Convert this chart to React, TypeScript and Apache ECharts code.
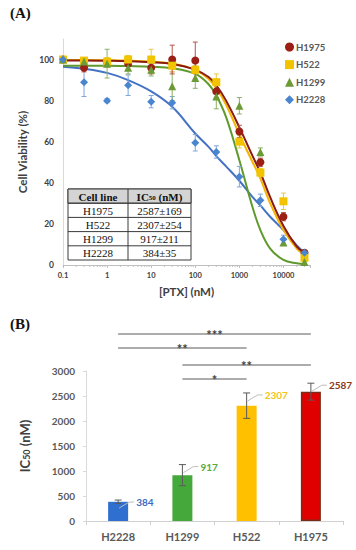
import React, { useEffect, useRef } from 'react';
import * as echarts from 'echarts';

// ---------- Panel A data ----------
const doses = [0.1, 0.3, 1, 3, 10, 30, 100, 300, 1000, 3000, 10000, 30000];
const cellLinesA = ['H1975', 'H522', 'H1299', 'H2228'];
const h1975Mean = [100, 96, 98.5, 98, 96, 100, 99.5, 84.5, 65, 50, 23.5, 6];
const h1975Err = [0, 2, 2, 3, 3, 7, 9, 3, 3, 2, 2, 1];
const h522Mean = [100, 99.5, 99, 100, 100, 97, 95, 89, 60, 45, 31, 3.5];
const h522Err = [0, 1, 2, 2, 5, 3, 2, 4, 3, 2, 4, 1];
const h1299Mean = [100, 99, 98, 96, 95, 87, 91, 82, 77.5, 55, 11, 1.5];
const h1299Err = [0, 1, 7, 3, 3, 7, 5, 6, 4, 2, 1, 1];
const h2228Mean = [100, 89, 80, 87.5, 79.5, 79, 59.5, 55, 43, 31.5, 12.5, 6];
const h2228Err = [0, 7, 1, 5, 3, 3, 4, 3, 5, 3, 2, 1];

// fitted curves
const curveDose = [0.1, 0.3, 1, 3, 10, 30, 100, 200, 300, 500, 1000, 2000, 3000, 5000, 10000, 20000, 30000];
const h1975Fit = [99.5, 99.5, 99.4, 99.2, 98.7, 97.8, 95, 91.5, 87.5, 80, 67, 53, 45, 33, 19, 9, 6];
const h522Fit = [99.8, 99.8, 99.7, 99.5, 99, 98, 95, 90.5, 86, 78, 63.5, 50, 42, 30, 17, 8, 5];
const h1299Fit = [97, 97, 97, 96.8, 96.5, 95.8, 93, 88, 82.5, 72, 51, 28, 17, 8, 2.5, 0.8, 0.5];
const h2228Fit = [96.5, 95.5, 93.5, 90, 84.5, 77, 64, 57.5, 53, 48, 41, 33, 29, 23.5, 17, 9.5, 6];

// table
const tableLines = ['H1975', 'H522', 'H1299', 'H2228'];
const tableIC50 = ['2587±169', '2307±254', '917±211', '384±35'];

// ---------- Panel B data ----------
const cellLinesB = ['H2228', 'H1299', 'H522', 'H1975'];
const ic50Values = [384, 917, 2307, 2587];
const ic50Errors = [35, 211, 254, 169];
const sigFrom = [0, 0, 1, 1];
const sigTo = [3, 2, 3, 2];
const sigLevel = [3740, 3460, 3120, 2840];
const sigStars = ['***', '**', '**', '*'];

const colA = {
  H1975: { marker: '#9B1F14', line: '#8B1A10', err: '#B5524A' },
  H522: { marker: '#F2C400', line: '#F4B400', err: '#E8C84A' },
  H1299: { marker: '#6C9A35', line: '#5E9A2C', err: '#8CB06A' },
  H2228: { marker: '#4A86D0', line: '#4472C4', err: '#7FA6DA' },
};
const barColors = ['#2F6FD0', '#45A83B', '#FFC000', '#E00000'];
const labelColors = ['#3A6BC4', '#5AAA3C', '#F2C318', '#8B3A1A'];

const FONT = 'Lato';
const SERIF = 'Liberation Serif';

function errorSeries(name: string, means: number[], errs: number[], color: string) {
  return {
    type: 'custom',
    name: name + ' err',
    xAxisIndex: 0,
    yAxisIndex: 0,
    clip: false,
    z: 3,
    data: doses.map((d, i) => [d, means[i], errs[i]]),
    encode: { x: 0, y: 1 },
    renderItem: (params: any, api: any) => {
      const x = api.value(0), m = api.value(1), e = api.value(2);
      if (!e) return null;
      const t = api.coord([x, m + e]);
      const b = api.coord([x, m - e]);
      const w = 2.5;
      const st = { stroke: color, lineWidth: 1 };
      return {
        type: 'group',
        children: [
          { type: 'line', shape: { x1: t[0], y1: t[1], x2: b[0], y2: b[1] }, style: st },
          { type: 'line', shape: { x1: t[0] - w, y1: t[1], x2: t[0] + w, y2: t[1] }, style: st },
          { type: 'line', shape: { x1: b[0] - w, y1: b[1], x2: b[0] + w, y2: b[1] }, style: st },
        ],
      };
    },
  };
}

function fitSeries(name: string, vals: number[], color: string) {
  return {
    type: 'line',
    name: name + ' fit',
    xAxisIndex: 0,
    yAxisIndex: 0,
    smooth: 0.4,
    symbol: 'none',
    z: 2,
    lineStyle: { color, width: 2 },
    data: curveDose.map((d, i) => [d, vals[i]]),
  };
}

function scatterSeries(name: string, means: number[], color: string, symbol: string, size: number) {
  return {
    type: 'scatter',
    name,
    xAxisIndex: 0,
    yAxisIndex: 0,
    symbol,
    symbolSize: size,
    z: 4,
    itemStyle: { color, opacity: 1 },
    data: doses.map((d, i) => [d, means[i]]),
  };
}

// minor tick positions of the log axis (2..9 in each decade)
const minorTickVals: number[][] = [];
for (let p = -1; p <= 4; p++) {
  for (let k = 2; k <= 9; k++) {
    const v = k * Math.pow(10, p);
    if (v <= 40000) minorTickVals.push([v, 0]);
  }
}

function buildTable() {
  const x0 = 68, x1 = 128, x2 = 191, y0 = 189, rh = 14.2;
  const children: any[] = [];
  children.push({ type: 'rect', shape: { x: x0, y: y0, width: x2 - x0, height: rh * 5 }, style: { fill: '#fff', stroke: '#3a3a3a', lineWidth: 1 } });
  children.push({ type: 'rect', shape: { x: x0, y: y0, width: x2 - x0, height: rh }, style: { fill: '#D4D4D4', stroke: '#3a3a3a', lineWidth: 1 } });
  for (let r = 1; r < 5; r++) {
    children.push({ type: 'line', shape: { x1: x0, y1: y0 + r * rh, x2: x2, y2: y0 + r * rh }, style: { stroke: '#3a3a3a', lineWidth: 1 } });
  }
  children.push({ type: 'line', shape: { x1: x1, y1: y0, x2: x1, y2: y0 + 5 * rh }, style: { stroke: '#3a3a3a', lineWidth: 1 } });
  children.push({ type: 'text', x: (x0 + x1) / 2, y: y0 + rh / 2 + 0.5, style: { text: 'Cell line', font: `bold 11px "${SERIF}"`, fill: '#111', align: 'center', verticalAlign: 'middle' } });
  children.push({
    type: 'text', x: (x1 + x2) / 2, y: y0 + rh / 2 + 0.5,
    style: {
      text: '{b|IC}{s|50}{b| (nM)}', align: 'center', verticalAlign: 'middle', fill: '#111',
      rich: {
        b: { fontFamily: SERIF, fontWeight: 'bold', fontSize: 11, fill: '#111' },
        s: { fontFamily: SERIF, fontWeight: 'bold', fontSize: 7, fill: '#111', padding: [3, 0, 0, 0] },
      },
    },
  });
  tableLines.forEach((name, i) => {
    const cy = y0 + rh * (i + 1) + rh / 2 + 0.5;
    children.push({ type: 'text', x: (x0 + x1) / 2, y: cy, style: { text: name, font: `11px "${SERIF}"`, fill: '#111', align: 'center', verticalAlign: 'middle' } });
    children.push({ type: 'text', x: (x1 + x2) / 2, y: cy, style: { text: tableIC50[i], font: `11px "${SERIF}"`, fill: '#111', align: 'center', verticalAlign: 'middle' } });
  });
  return { type: 'group', children, z: 10 };
}

const option: any = {
  animation: false,
  backgroundColor: '#fff',
  grid: [
    { left: 63, top: 39, width: 247, height: 226 },
    { left: 86, top: 371, width: 257, height: 150 },
  ],
  legend: {
    data: cellLinesA,
    orient: 'vertical',
    left: 280,
    top: 37,
    itemWidth: 9,
    itemHeight: 9,
    itemGap: 7.6,
    textStyle: { fontFamily: FONT, fontWeight: 'bold', fontSize: 9.5, color: '#595959', padding: [0, 0, 0, -3] },
  },
  xAxis: [
    {
      type: 'log', gridIndex: 0, logBase: 10, min: 0.1, max: 40000,
      name: '[PTX] (nM)', nameLocation: 'middle', nameGap: 20,
      nameTextStyle: { fontFamily: FONT, fontWeight: 'bold', fontSize: 11.5, color: '#404040' },
      axisLine: { lineStyle: { color: '#BFBFBF' } },
      axisTick: { show: true, length: 3, lineStyle: { color: '#BFBFBF' } },
      splitLine: { show: false },
      axisLabel: {
        fontFamily: FONT, fontWeight: 'bold', fontSize: 7.5, color: '#404040', margin: 6,
        formatter: (v: number) => {
          const l = Math.log10(v);
          if (Math.abs(l - Math.round(l)) > 1e-6) return '';
          return v < 1 ? '0.1' : String(Math.round(v));
        },
      },
    },
    {
      type: 'category', gridIndex: 1, data: cellLinesB,
      axisLine: { lineStyle: { color: '#D0D0D0' } },
      axisTick: { show: true, length: 4, lineStyle: { color: '#D0D0D0' } },
      axisLabel: { fontFamily: FONT, fontWeight: 'bold', fontSize: 11, color: '#595959', margin: 10 },
    },
  ],
  yAxis: [
    {
      type: 'value', gridIndex: 0, min: 0, max: 110, interval: 20,
      name: 'Cell Viability (%)', nameLocation: 'middle', nameGap: 28,
      nameTextStyle: { fontFamily: FONT, fontWeight: 'bold', fontSize: 11.5, color: '#404040' },
      axisLine: { show: true, lineStyle: { color: '#D9D9D9' } },
      axisTick: { show: false },
      splitLine: { show: false },
      axisLabel: { fontFamily: FONT, fontWeight: 'bold', fontSize: 8.5, color: '#404040', margin: 9, formatter: (v: number) => (v > 100 ? '' : String(v)) },
    },
    {
      type: 'value', gridIndex: 1, min: 0, max: 3000, interval: 500,
      name: '{b|IC}{s|50}{b| (nM)}', nameLocation: 'middle', nameGap: 55,
      nameTextStyle: {
        rich: {
          b: { fontFamily: FONT, fontWeight: 'bold', fontSize: 13, color: '#404040' },
          s: { fontFamily: FONT, fontWeight: 'bold', fontSize: 9, color: '#404040', padding: [4, 0, 0, 0] },
        },
      },
      axisLine: { show: true, lineStyle: { color: '#D9D9D9' } },
      axisTick: { show: true, length: 3, lineStyle: { color: '#D9D9D9' } },
      splitLine: { show: false },
      axisLabel: { fontFamily: FONT, fontWeight: 'bold', fontSize: 10, color: '#595959', margin: 11, formatter: (v: number) => String(v) },
    },
  ],
  graphic: [
    { type: 'text', left: 10, top: 5, style: { text: '(A)', font: `bold 15px "${SERIF}"`, fill: '#111' } },
    { type: 'text', left: 10, top: 316, style: { text: '(B)', font: `bold 15px "${SERIF}"`, fill: '#111' } },
    buildTable(),
  ],
  series: [
    {
      type: 'custom', name: 'minor ticks', xAxisIndex: 0, yAxisIndex: 0, clip: false, silent: true,
      data: minorTickVals, encode: { x: 0, y: 1 },
      renderItem: (params: any, api: any) => {
        const p = api.coord([api.value(0), 0]);
        return { type: 'line', shape: { x1: p[0], y1: p[1], x2: p[0], y2: p[1] + 2 }, style: { stroke: '#BFBFBF', lineWidth: 1 } };
      },
    },
    fitSeries('H2228', h2228Fit, colA.H2228.line),
    fitSeries('H1299', h1299Fit, colA.H1299.line),
    fitSeries('H522', h522Fit, colA.H522.line),
    fitSeries('H1975', h1975Fit, colA.H1975.line),
    errorSeries('H2228', h2228Mean, h2228Err, colA.H2228.err),
    errorSeries('H1299', h1299Mean, h1299Err, colA.H1299.err),
    errorSeries('H522', h522Mean, h522Err, colA.H522.err),
    errorSeries('H1975', h1975Mean, h1975Err, colA.H1975.err),
    scatterSeries('H1975', h1975Mean, colA.H1975.marker, 'circle', 8),
    scatterSeries('H522', h522Mean, colA.H522.marker, 'rect', 8),
    scatterSeries('H1299', h1299Mean, colA.H1299.marker, 'triangle', 8),
    scatterSeries('H2228', h2228Mean, colA.H2228.marker, 'diamond', 8),
    // ---- panel B ----
    {
      type: 'bar', name: 'IC50', xAxisIndex: 1, yAxisIndex: 1, barWidth: 20,
      data: ic50Values.map((v, i) => ({
        value: v,
        itemStyle: i === 3
          ? { color: barColors[i], borderColor: '#7B2C19', borderWidth: 1.5 }
          : { color: barColors[i] },
      })),
    },
    {
      type: 'custom', name: 'IC50 err', xAxisIndex: 1, yAxisIndex: 1, clip: false, z: 5,
      data: ic50Values.map((v, i) => [i, v, ic50Errors[i]]), encode: { x: 0, y: 1 },
      renderItem: (params: any, api: any) => {
        const i = api.value(0), m = api.value(1), e = api.value(2);
        const t = api.coord([i, m + e]);
        const b = api.coord([i, m - e]);
        const w = 3.5;
        const st = { stroke: '#5A5A5A', lineWidth: 1 };
        const yl = t[1] + 2;
        const lc = labelColors[params.dataIndex];
        return {
          type: 'group',
          children: [
            { type: 'line', shape: { x1: t[0], y1: t[1], x2: b[0], y2: b[1] }, style: st },
            { type: 'line', shape: { x1: t[0] - w, y1: t[1], x2: t[0] + w, y2: t[1] }, style: st },
            { type: 'line', shape: { x1: b[0] - w, y1: b[1], x2: b[0] + w, y2: b[1] }, style: st },
            { type: 'polyline', shape: { points: [[t[0] + 1, yl + 6], [t[0] + 11, yl], [t[0] + 16, yl]] }, style: { stroke: '#BDBDBD', lineWidth: 1, fill: 'none' } },
            { type: 'text', x: t[0] + 18, y: yl, style: { text: String(ic50Values[params.dataIndex]), font: `bold 10px "${FONT}"`, fill: lc, align: 'left', verticalAlign: 'middle' } },
          ],
        };
      },
    },
    {
      type: 'custom', name: 'significance', xAxisIndex: 1, yAxisIndex: 1, clip: false, z: 5,
      data: sigLevel.map((lv, i) => [sigFrom[i], sigTo[i], lv]), encode: { x: 0, y: 2 },
      renderItem: (params: any, api: any) => {
        const i = params.dataIndex;
        const a = api.coord([sigFrom[i], sigLevel[i]]);
        const b = api.coord([sigTo[i], sigLevel[i]]);
        return {
          type: 'group',
          children: [
            { type: 'line', shape: { x1: a[0], y1: a[1], x2: b[0], y2: b[1] }, style: { stroke: '#5A5A5A', lineWidth: 1 } },
            { type: 'text', x: (a[0] + b[0]) / 2, y: a[1] + 1, style: { text: sigStars[i], font: `bold 13px "${FONT}"`, fill: '#404040', align: 'center', verticalAlign: 'middle' } },
          ],
        };
      },
    },
  ],
};

export default function App() {
  const ref = useRef<HTMLDivElement>(null);
  useEffect(() => {
    const chart = echarts.init(ref.current!, null, { renderer: 'svg' });
    chart.setOption(option);
    return () => chart.dispose();
  }, []);
  return <div ref={ref} style={{ position: 'fixed', left: 0, top: 0, width: 356, height: 550, background: '#fff' }} />;
}
